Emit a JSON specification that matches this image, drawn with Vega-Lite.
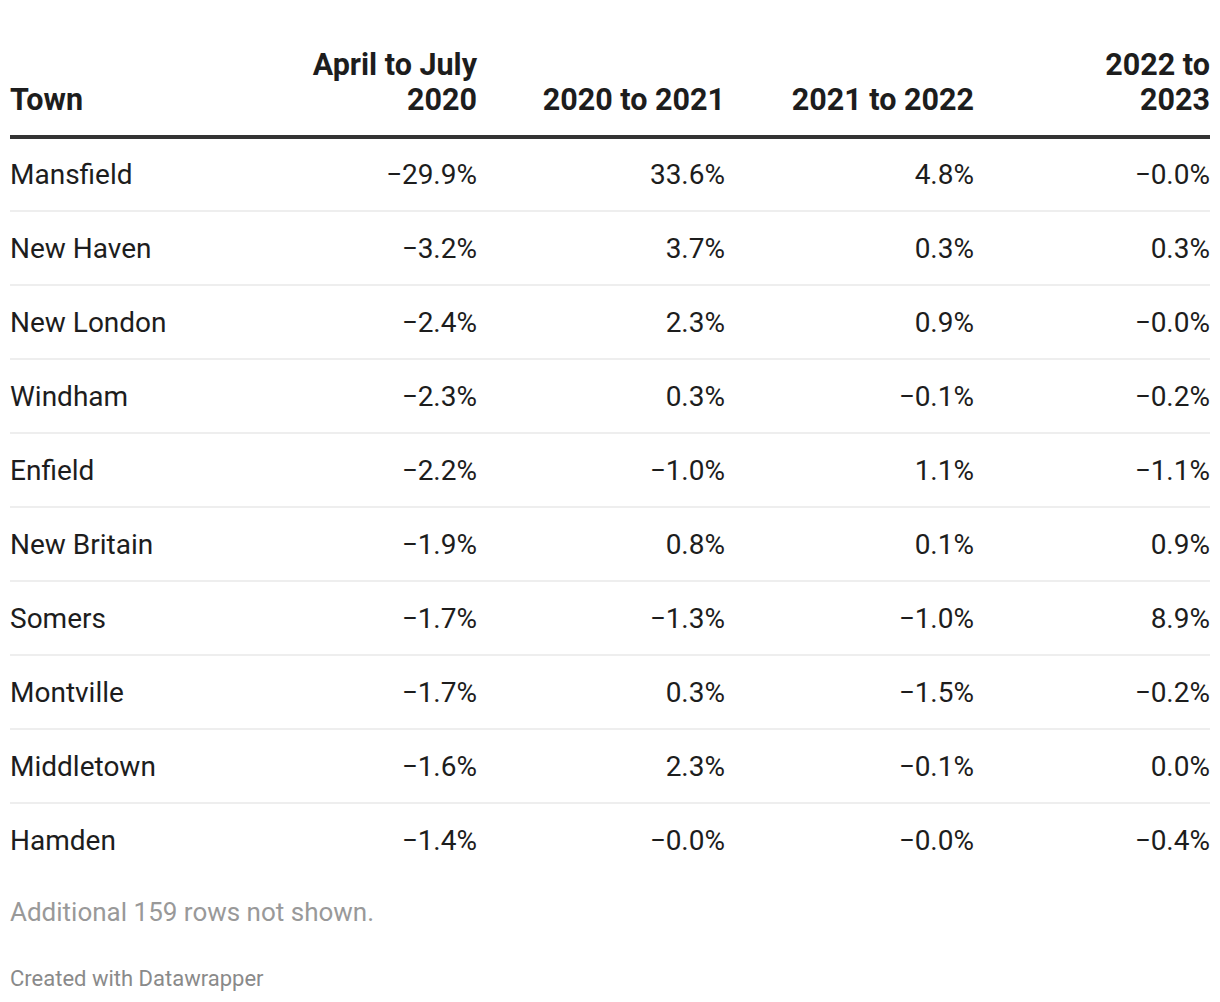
{
  "$schema": "https://vega.github.io/schema/vega-lite/v6.json",
  "width": 1220,
  "height": 1002,
  "autosize": {"type": "fit", "contains": "padding"},
  "padding": 0,
  "background": "white",
  "config": {"view": {"stroke": null}, "text": {"font": "Roboto"}},
  "datasets": {
    "cells": [
      {"town": "Mansfield", "col": 1, "value": "−29.9%"},
      {"town": "Mansfield", "col": 2, "value": "33.6%"},
      {"town": "Mansfield", "col": 3, "value": "4.8%"},
      {"town": "Mansfield", "col": 4, "value": "−0.0%"},
      {"town": "New Haven", "col": 1, "value": "−3.2%"},
      {"town": "New Haven", "col": 2, "value": "3.7%"},
      {"town": "New Haven", "col": 3, "value": "0.3%"},
      {"town": "New Haven", "col": 4, "value": "0.3%"},
      {"town": "New London", "col": 1, "value": "−2.4%"},
      {"town": "New London", "col": 2, "value": "2.3%"},
      {"town": "New London", "col": 3, "value": "0.9%"},
      {"town": "New London", "col": 4, "value": "−0.0%"},
      {"town": "Windham", "col": 1, "value": "−2.3%"},
      {"town": "Windham", "col": 2, "value": "0.3%"},
      {"town": "Windham", "col": 3, "value": "−0.1%"},
      {"town": "Windham", "col": 4, "value": "−0.2%"},
      {"town": "Enfield", "col": 1, "value": "−2.2%"},
      {"town": "Enfield", "col": 2, "value": "−1.0%"},
      {"town": "Enfield", "col": 3, "value": "1.1%"},
      {"town": "Enfield", "col": 4, "value": "−1.1%"},
      {"town": "New Britain", "col": 1, "value": "−1.9%"},
      {"town": "New Britain", "col": 2, "value": "0.8%"},
      {"town": "New Britain", "col": 3, "value": "0.1%"},
      {"town": "New Britain", "col": 4, "value": "0.9%"},
      {"town": "Somers", "col": 1, "value": "−1.7%"},
      {"town": "Somers", "col": 2, "value": "−1.3%"},
      {"town": "Somers", "col": 3, "value": "−1.0%"},
      {"town": "Somers", "col": 4, "value": "8.9%"},
      {"town": "Montville", "col": 1, "value": "−1.7%"},
      {"town": "Montville", "col": 2, "value": "0.3%"},
      {"town": "Montville", "col": 3, "value": "−1.5%"},
      {"town": "Montville", "col": 4, "value": "−0.2%"},
      {"town": "Middletown", "col": 1, "value": "−1.6%"},
      {"town": "Middletown", "col": 2, "value": "2.3%"},
      {"town": "Middletown", "col": 3, "value": "−0.1%"},
      {"town": "Middletown", "col": 4, "value": "0.0%"},
      {"town": "Hamden", "col": 1, "value": "−1.4%"},
      {"town": "Hamden", "col": 2, "value": "−0.0%"},
      {"town": "Hamden", "col": 3, "value": "−0.0%"},
      {"town": "Hamden", "col": 4, "value": "−0.4%"}
    ],
    "headers": [
      {"col": 0, "label": ["", "Town"]},
      {"col": 1, "label": ["April to July", "2020"]},
      {"col": 2, "label": ["", "2020 to 2021"]},
      {"col": 3, "label": ["", "2021 to 2022"]},
      {"col": 4, "label": ["2022 to", "2023"]}
    ],
    "notes": [
      {"row": "note", "text": "Additional 159 rows not shown."},
      {"row": "credit", "text": "Created with Datawrapper"}
    ]
  },
  "layer": [
    {
      "data": {"name": "cells"},
      "transform": [{"filter": "datum.col == 1"}],
      "mark": {"type": "text", "align": "left", "baseline": "alphabetic", "dy": 10, "fontSize": 28, "color": "#1d1d1d"},
      "encoding": {
        "x": {"datum": 0, "type": "quantitative", "axis": null, "scale": {"domain": [0, 1, 2, 3, 4], "range": [10, 477, 725, 974, 1210]}},
        "y": {"field": "town", "type": "nominal", "axis": null, "scale": {"type": "band", "domain": ["header", "Mansfield", "New Haven", "New London", "Windham", "Enfield", "New Britain", "Somers", "Montville", "Middletown", "Hamden", "note", "credit"], "range": [63, 1025], "paddingInner": 0, "paddingOuter": 0}},
        "text": {"field": "town", "type": "nominal"}
      }
    },
    {
      "data": {"name": "cells"},
      "mark": {"type": "text", "align": "right", "baseline": "alphabetic", "dy": 10, "fontSize": 28, "color": "#1d1d1d"},
      "encoding": {
        "x": {"field": "col", "type": "quantitative", "axis": null},
        "y": {"field": "town", "type": "nominal", "axis": null},
        "text": {"field": "value", "type": "nominal"}
      }
    },
    {
      "data": {"name": "cells"},
      "transform": [{"filter": "datum.col == 1 && datum.town != 'Mansfield'"}],
      "mark": {"type": "rule", "color": "#e8e8e8", "strokeWidth": 1.5},
      "encoding": {
        "x": {"datum": 0, "type": "quantitative", "axis": null},
        "x2": {"datum": 4},
        "y": {"field": "town", "type": "nominal", "axis": null, "bandPosition": 0}
      }
    },
    {
      "data": {"values": [{"row": "header"}]},
      "mark": {"type": "rule", "color": "#333333", "strokeWidth": 4},
      "encoding": {
        "x": {"datum": 0, "type": "quantitative", "axis": null},
        "x2": {"datum": 4},
        "y": {"field": "row", "type": "nominal", "axis": null, "bandPosition": 1}
      }
    },
    {
      "data": {"name": "headers"},
      "transform": [{"filter": "datum.col == 0"}],
      "mark": {"type": "text", "align": "left", "baseline": "alphabetic", "dy": -25, "lineHeight": 35, "fontSize": 30.5, "fontWeight": "bold", "color": "#1d1d1d"},
      "encoding": {
        "x": {"field": "col", "type": "quantitative", "axis": null},
        "y": {"datum": "header", "type": "nominal", "axis": null},
        "text": {"field": "label"}
      }
    },
    {
      "data": {"name": "headers"},
      "transform": [{"filter": "datum.col > 0"}],
      "mark": {"type": "text", "align": "right", "baseline": "alphabetic", "dy": -25, "lineHeight": 35, "fontSize": 30.5, "fontWeight": "bold", "color": "#1d1d1d"},
      "encoding": {
        "x": {"field": "col", "type": "quantitative", "axis": null},
        "y": {"datum": "header", "type": "nominal", "axis": null},
        "text": {"field": "label"}
      }
    },
    {
      "data": {"name": "notes"},
      "transform": [{"filter": "datum.row == 'note'"}],
      "mark": {"type": "text", "align": "left", "baseline": "alphabetic", "dy": 7, "fontSize": 26, "color": "#999999"},
      "encoding": {
        "x": {"datum": 0, "type": "quantitative", "axis": null},
        "y": {"field": "row", "type": "nominal", "axis": null},
        "text": {"field": "text"}
      }
    },
    {
      "data": {"name": "notes"},
      "transform": [{"filter": "datum.row == 'credit'"}],
      "mark": {"type": "text", "align": "left", "baseline": "alphabetic", "dy": -2, "fontSize": 22, "color": "#8a8a8a"},
      "encoding": {
        "x": {"datum": 0, "type": "quantitative", "axis": null},
        "y": {"field": "row", "type": "nominal", "axis": null},
        "text": {"field": "text"}
      }
    }
  ]
}
